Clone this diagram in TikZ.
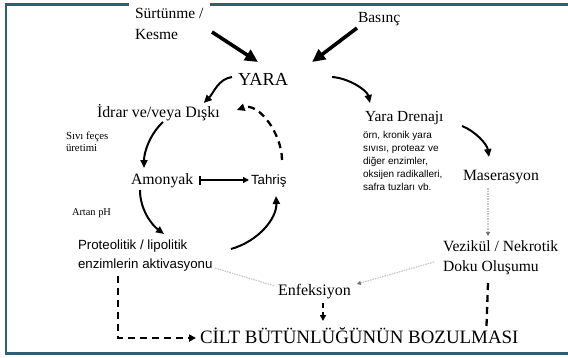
\documentclass[tikz,border=0pt]{standalone}
\usepackage{fontspec}
\setmainfont{Liberation Serif}
\setsansfont{Liberation Sans}
\usetikzlibrary{arrows.meta}
\definecolor{framec}{HTML}{2C5F78}
\begin{document}
\begin{tikzpicture}[x=1pt,y=-1pt,
  txt/.style={inner sep=0pt,outer sep=0pt,anchor=base west},
  blk/.style={inner sep=0pt,outer sep=0pt,anchor=north west,align=left},
  serifm/.style={font=\fontsize{15.6}{20}\selectfont},
  thickarr/.style={line width=3.6pt,-{Triangle[length=13pt,width=12pt]}},
  curvearr/.style={line width=2pt,-{Triangle[length=8pt,width=7pt]}},
  dasharr/.style={line width=2.3pt,dash pattern=on 7pt off 5pt},
  dotarr/.style={line width=1.1pt,gray!45,dash pattern=on 1.5pt off 1pt},
  dothead/.style={-{Triangle[length=4pt,width=4pt,color=gray!90!black]}}
]
\useasboundingbox (0,0) rectangle (568,357);
\fill[white] (0,0) rectangle (568,357);
% frame
\draw[framec,line width=2.6pt] (568,4.5) -- (210,4.5);
\draw[framec,line width=2.6pt] (129,4.5) -- (6,4.5) -- (6,353.5) -- (568,353.5);

% nodes
\node[blk,serifm,font=\fontsize{15.5}{21}\selectfont] (sur) at (135,8) {Sürtünme /\\Kesme};
\node[txt,font=\fontsize{15.5}{20}\selectfont] (bas) at (358,22) {Basınç};
\node[txt,font=\fontsize{18.4}{22}\selectfont] (yara) at (238,85) {YARA};
\node[txt,font=\fontsize{15.9}{20}\selectfont] (idrar) at (97,117) {İdrar ve/veya Dışkı};
\node[blk,font=\fontsize{10.8}{12}\selectfont] (sivi) at (66,132) {Sıvı feçes\\üretimi};
\node[txt,font=\fontsize{15.8}{20}\selectfont] (amonyak) at (131,184) {Amonyak};
\node[txt,font=\sffamily\fontsize{13.3}{16}\selectfont] (tahris) at (251,184) {Tahriş};
\node[txt,font=\fontsize{10.4}{12}\selectfont] (artan) at (72,215) {Artan pH};
\node[blk,font=\sffamily\fontsize{13.3}{19}\selectfont] (prot) at (78,239.5) {Proteolitik / lipolitik\\enzimlerin aktivasyonu};
\node[txt,font=\fontsize{15.4}{20}\selectfont] (yd) at (365,121) {Yara Drenajı};
\node[blk,font=\sffamily\fontsize{10}{13}\selectfont] (ydtxt) at (363,131.7) {örn, kronik yara\\sıvısı, proteaz ve\\diğer enzimler,\\oksijen radikalleri,\\safra tuzları vb.};
\node[txt,font=\fontsize{15.7}{20}\selectfont] (mas) at (463,180) {Maserasyon};
\node[blk,font=\fontsize{15.6}{20}\selectfont] (vez) at (443,241) {Vezikül / Nekrotik\\Doku Oluşumu};
\node[txt,font=\fontsize{16}{20}\selectfont] (enf) at (278,295) {Enfeksiyon};
\node[txt,font=\fontsize{18.9}{22}\selectfont] (cilt) at (200,343) {CİLT BÜTÜNLÜĞÜNÜN BOZULMASI};

% thick arrows
\draw[thickarr] ([shift={(77,24)}]sur.north west) -- ([shift={(20,-23)}]yara.base west);
\draw[thickarr] ([shift={(-1,6)}]bas.base west) -- ([shift={(24,-23)}]yara.base east);

% curved arrows
\draw[curvearr] ([shift={(-6,-8)}]yara.base west) .. controls +(-14,2) and +(10,-10) .. ([shift={(-16,-14)}]idrar.base east);
\draw[curvearr] ([shift={(66,5)}]idrar.base west) .. controls +(-13,12) and +(0,-16) .. ([shift={(13,-16)}]amonyak.base west);
\draw[curvearr] ([shift={(9,6)}]amonyak.base west) .. controls +(0,20) and +(-12,-9) .. ([shift={(86,-5.5)}]prot.north west);
\draw[curvearr] ([shift={(153,9.5)}]prot.north west) .. controls +(28,-8) and +(1,22) .. ([shift={(25,12)}]tahris.base west);
\draw[curvearr,dasharr] ([shift={(31,-24)}]tahris.base west) .. controls +(0,-26) and +(22,-8) .. ([shift={(17,-7)}]idrar.base east);
\draw[curvearr] ([shift={(44,-8)}]yara.base east) .. controls +(16,1) and +(-3,-13) .. ([shift={(5,-18)}]yd.base west);
\draw[curvearr] ([shift={(97,5)}]yd.base west) .. controls +(13,5) and +(-2,-13) .. ([shift={(26,-23)}]mas.base west);

% amonyak -> tahris
\draw[line width=1.8pt,{Bar[width=9pt]}-{Triangle[length=6pt,width=6pt]}] ([shift={(6,-4)}]amonyak.base east) -- ([shift={(-2,-4)}]tahris.base west);

% dotted grey connectors
\draw[dotarr,dothead] ([shift={(25,8)}]mas.base west) -- ([shift={(45,-5)}]vez.north west);
\draw[dotarr,dothead] ([shift={(-9,21)}]vez.north west) -- ([shift={(6,-11)}]enf.base east);
\draw[dotarr] ([shift={(137,28.5)}]prot.north west) -- ([shift={(-3,-9)}]enf.base west);

% dashed connectors to CILT
\draw[dasharr,-{Triangle[length=7pt,width=7pt]}] ([shift={(40,36.5)}]prot.north west) |- ([shift={(-4,-5)}]cilt.base west);
\draw[line width=2.3pt,dash pattern=on 5pt off 4pt,-{Triangle[length=6pt,width=6pt]}] ([shift={(45,8)}]enf.base west) -- ([shift={(123,-22)}]cilt.base west);
\draw[dasharr] ([shift={(45,42)}]vez.north west) -- ([shift={(-32,-17)}]cilt.base east);
\end{tikzpicture}
\end{document}
